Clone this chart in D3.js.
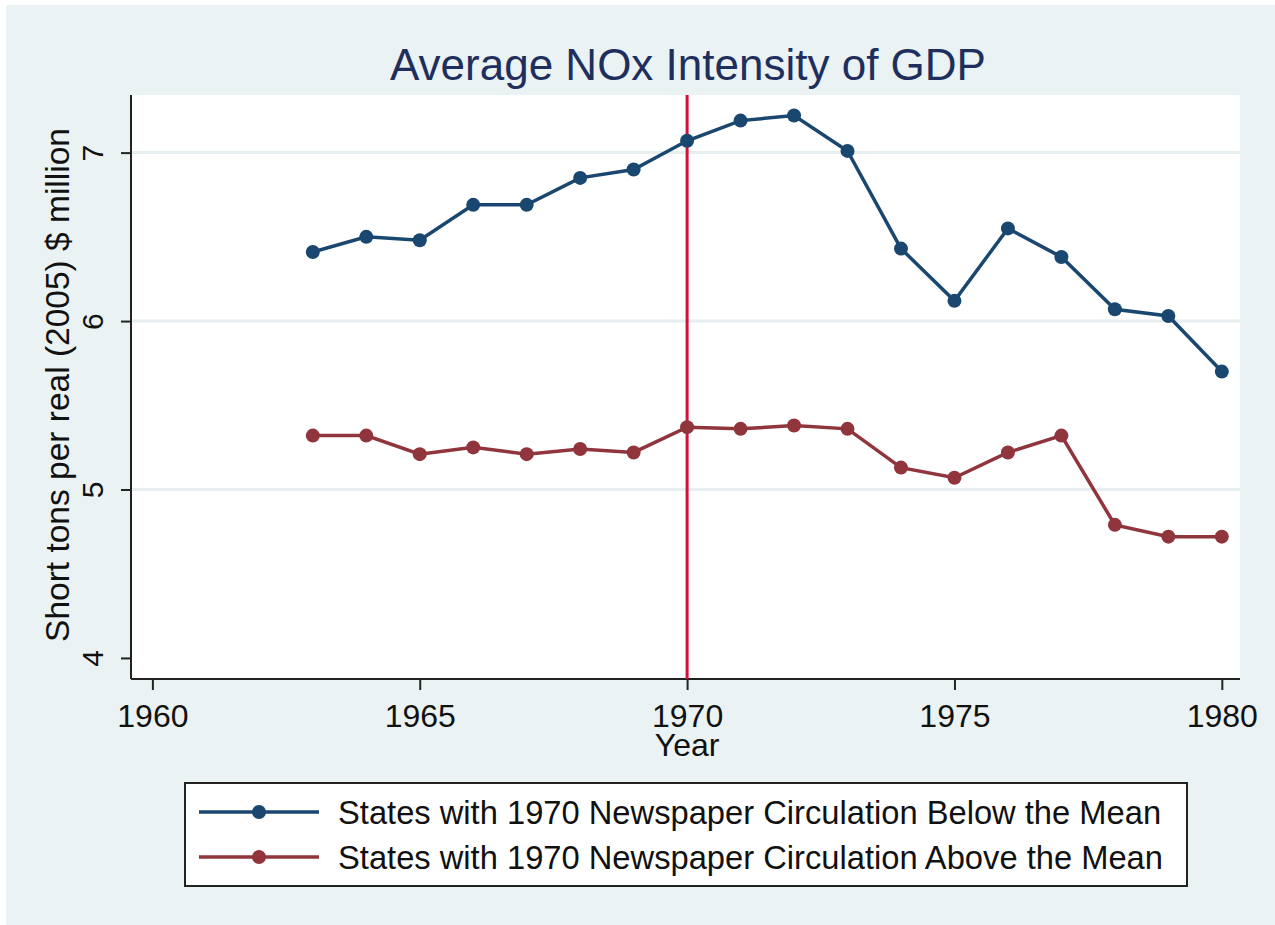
<!DOCTYPE html>
<html>
<head>
<meta charset="utf-8">
<script src="https://cdn.jsdelivr.net/npm/d3@7"></script>
<style>
  body { margin: 0; background: #fff; }
  svg text { font-family: "Liberation Sans", Arial, sans-serif; }
</style>
</head>
<body>
<svg id="chart" width="1275" height="925"></svg>
<script>
// data
var years = [1963,1964,1965,1966,1967,1968,1969,1970,1971,1972,1973,1974,1975,1976,1977,1978,1979,1980];
var below = [6.41,6.50,6.48,6.69,6.69,6.85,6.90,7.07,7.19,7.22,7.01,6.43,6.12,6.55,6.38,6.07,6.03,5.70];
var above = [5.32,5.32,5.21,5.25,5.21,5.24,5.22,5.37,5.36,5.38,5.36,5.13,5.07,5.22,5.32,4.79,4.72,4.72];
var xTicks = [1960,1965,1970,1975,1980];
var yTicks = [4,5,6,7];
var gridVals = [5,6,7];
var eventYear = 1970;
var seriesNames = ["States with 1970 Newspaper Circulation Below the Mean",
                   "States with 1970 Newspaper Circulation Above the Mean"];
var seriesColors = ["#1a476f", "#90353b"];

var svg = d3.select("#chart");
// outer bluish background
svg.append("rect").attr("x", 6).attr("y", 5).attr("width", 1269).attr("height", 920).attr("fill", "#eaf2f3");

var pLeft = 131, pRight = 1240, pTop = 95, pBottom = 679;
svg.append("rect").attr("x", pLeft).attr("y", pTop).attr("width", pRight-pLeft).attr("height", pBottom-pTop).attr("fill", "#fff");

var x = d3.scaleLinear().domain([1959.6, 1980.34]).range([pLeft, pRight]);
var y = d3.scaleLinear().domain([3.875, 7.342]).range([pBottom, pTop]);

// grid
svg.append("g").selectAll("line").data(gridVals).enter().append("line")
  .attr("x1", pLeft).attr("x2", pRight)
  .attr("y1", function(d){ return y(d); }).attr("y2", function(d){ return y(d); })
  .attr("stroke", "#e6eef0").attr("stroke-width", 3);

// axes
var yAxis = svg.append("g").attr("transform", "translate(" + pLeft + ",0)")
  .call(d3.axisLeft(y).tickValues(yTicks).tickSize(10).tickSizeOuter(0).tickFormat(d3.format("d")));
yAxis.select(".domain").attr("stroke", "#222").attr("stroke-width", 2).attr("d", "M0," + pTop + "V" + pBottom);
yAxis.selectAll(".tick line").attr("stroke", "#222").attr("stroke-width", 2);
yAxis.selectAll(".tick text")
  .attr("x", null).attr("dy", null)
  .attr("transform", "translate(-28,0) rotate(-90)")
  .attr("text-anchor", "middle")
  .attr("font-size", 30).attr("fill", "#111");

var xAxis = svg.append("g").attr("transform", "translate(0," + pBottom + ")")
  .call(d3.axisBottom(x).tickValues(xTicks).tickSize(11).tickSizeOuter(0).tickFormat(d3.format("d")));
xAxis.select(".domain").attr("stroke", "#222").attr("stroke-width", 2).attr("d", "M" + pLeft + ",0H" + pRight);
xAxis.selectAll(".tick line").attr("stroke", "#222").attr("stroke-width", 2);
xAxis.selectAll(".tick text").attr("y", 48).attr("dy", null)
  .attr("font-size", 32).attr("fill", "#111");

// vertical event line
svg.append("line")
  .attr("x1", x(eventYear)).attr("x2", x(eventYear))
  .attr("y1", pTop).attr("y2", pBottom)
  .attr("stroke", "#d1103c").attr("stroke-width", 3);

// series
var line = d3.line().x(function(d){ return x(d[0]); }).y(function(d){ return y(d[1]); });
[below, above].forEach(function(vals, k){
  var pts = years.map(function(yr, i){ return [yr, vals[i]]; });
  svg.append("path").datum(pts).attr("d", line)
    .attr("fill", "none").attr("stroke", seriesColors[k]).attr("stroke-width", 3.5);
  svg.append("g").selectAll("circle").data(pts).enter().append("circle")
    .attr("cx", function(d){ return x(d[0]); })
    .attr("cy", function(d){ return y(d[1]); })
    .attr("r", 7).attr("fill", seriesColors[k]);
});

// titles
svg.append("text").attr("x", 688).attr("y", 80).attr("text-anchor", "middle")
  .attr("font-size", 44).attr("fill", "#1e2f5e").text("Average NOx Intensity of GDP");
svg.append("text").attr("transform", "translate(69," + ((pTop+pBottom)/2 - 2) + ") rotate(-90)")
  .attr("text-anchor", "middle").attr("font-size", 33.5).attr("fill", "#111")
  .text("Short tons per real (2005) $ million");
svg.append("text").attr("x", x(1970)).attr("y", 756).attr("text-anchor", "middle")
  .attr("font-size", 32).attr("fill", "#111").text("Year");

// legend
svg.append("rect").attr("x", 185).attr("y", 783).attr("width", 1002).attr("height", 103)
  .attr("fill", "#fff").attr("stroke", "#222").attr("stroke-width", 2);
seriesNames.forEach(function(name, k){
  var ly = 812 + k*45;
  svg.append("line").attr("x1", 199).attr("x2", 319).attr("y1", ly).attr("y2", ly)
    .attr("stroke", seriesColors[k]).attr("stroke-width", 3.5);
  svg.append("circle").attr("cx", 259).attr("cy", ly).attr("r", 7).attr("fill", seriesColors[k]);
  svg.append("text").attr("x", 338).attr("y", ly + 12).attr("font-size", 32.7).attr("fill", "#111").text(name);
});
</script>
</body>
</html>
